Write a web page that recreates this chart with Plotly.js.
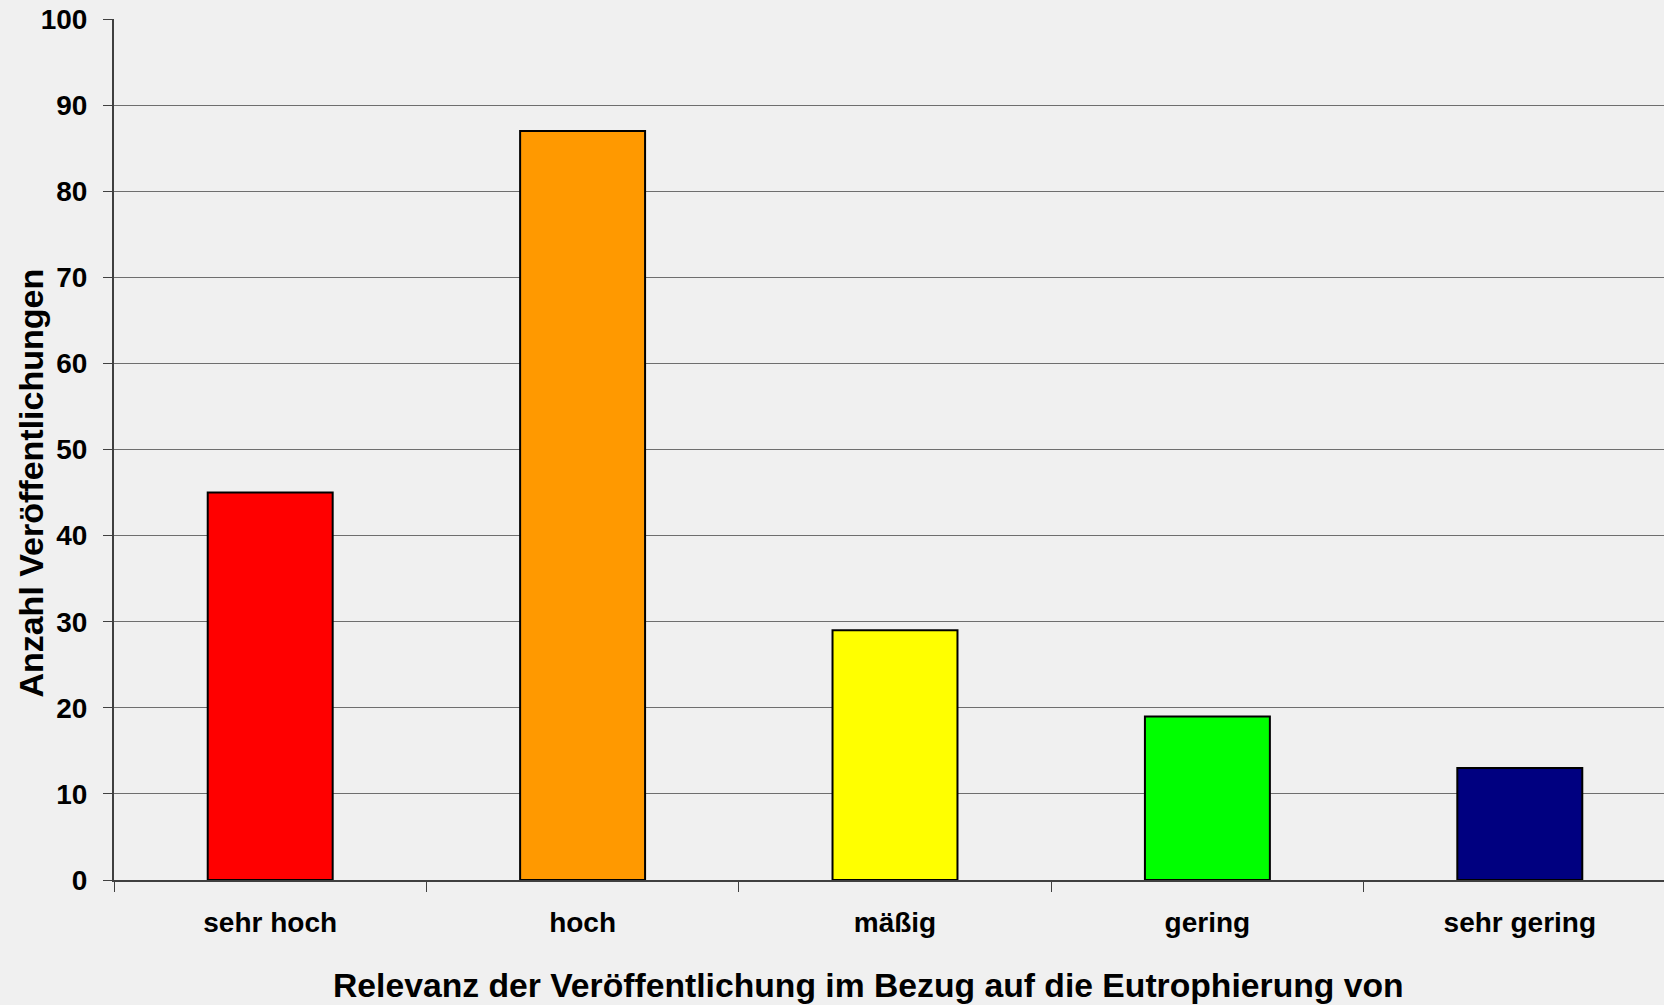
<!DOCTYPE html>
<html>
<head>
<meta charset="utf-8">
<script src="https://cdn.plot.ly/plotly-3.0.1.min.js"></script>
<style>
html,body{margin:0;padding:0;background:#f0f0f0;}
#chart{width:1664px;height:1005px;}
</style>
</head>
<body>
<div id="chart"></div>
<script>
const categories = ["sehr hoch", "hoch", "mäßig", "gering", "sehr gering"];
const values = [45, 87, 29, 19, 13];
const barColors = ["#ff0000", "#ff9900", "#ffff00", "#00ff00", "#000080"];
const xTitle = "Relevanz der Veröffentlichung im Bezug auf die Eutrophierung von";
const yTitle = "Anzahl Veröffentlichungen";

const fontFam = "Liberation Sans, Arial, sans-serif";

const trace = {
  type: "bar",
  x: categories,
  y: values,
  width: 0.4,
  marker: {color: barColors, line: {color: "#000000", width: 2}},
  hoverinfo: "x+y"
};

const layout = {
  width: 1664,
  height: 1005,
  margin: {l: 113.5, r: 0, t: 19, b: 125, pad: 0},
  paper_bgcolor: "#f0f0f0",
  plot_bgcolor: "#f0f0f0",
  showlegend: false,
  bargap: 0.6,
  font: {family: fontFam, color: "#000000"},
  xaxis: {
    type: "category",
    range: [-0.5, 4.4616],
    tickson: "boundaries",
    ticks: "outside",
    ticklen: 10,
    tickwidth: 1,
    tickcolor: "#404040",
    showgrid: false,
    showline: true,
    linecolor: "#404040",
    linewidth: 2,
    zeroline: false,
    tickfont: {family: fontFam, size: 28, weight: "bold", color: "#000000"},
    ticklabelstandoff: 16,
    fixedrange: true
  },
  yaxis: {
    range: [0, 100],
    dtick: 10,
    tick0: 0,
    ticks: "outside",
    ticklen: 9,
    tickwidth: 1,
    tickcolor: "#404040",
    showgrid: true,
    gridcolor: "#6e6e6e",
    gridwidth: 1,
    showline: true,
    linecolor: "#404040",
    linewidth: 2,
    zeroline: false,
    tickfont: {family: fontFam, size: 28, weight: "bold", color: "#000000"},
    ticklabelstandoff: 10,
    fixedrange: true
  },
  annotations: [
    {
      text: xTitle,
      xref: "paper", yref: "paper",
      x: 0.4866, y: -0.122,
      xanchor: "center", yanchor: "middle",
      showarrow: false,
      font: {family: fontFam, size: 33.7, weight: "bold", color: "#000000"}
    },
    {
      text: yTitle,
      xref: "paper", yref: "paper",
      x: -0.0532, y: 0.461,
      xanchor: "center", yanchor: "middle",
      textangle: -90,
      showarrow: false,
      font: {family: fontFam, size: 34, weight: "bold", color: "#000000"}
    }
  ]
};

Plotly.newPlot("chart", [trace], layout, {displayModeBar: false, staticPlot: true});
</script>
</body>
</html>
